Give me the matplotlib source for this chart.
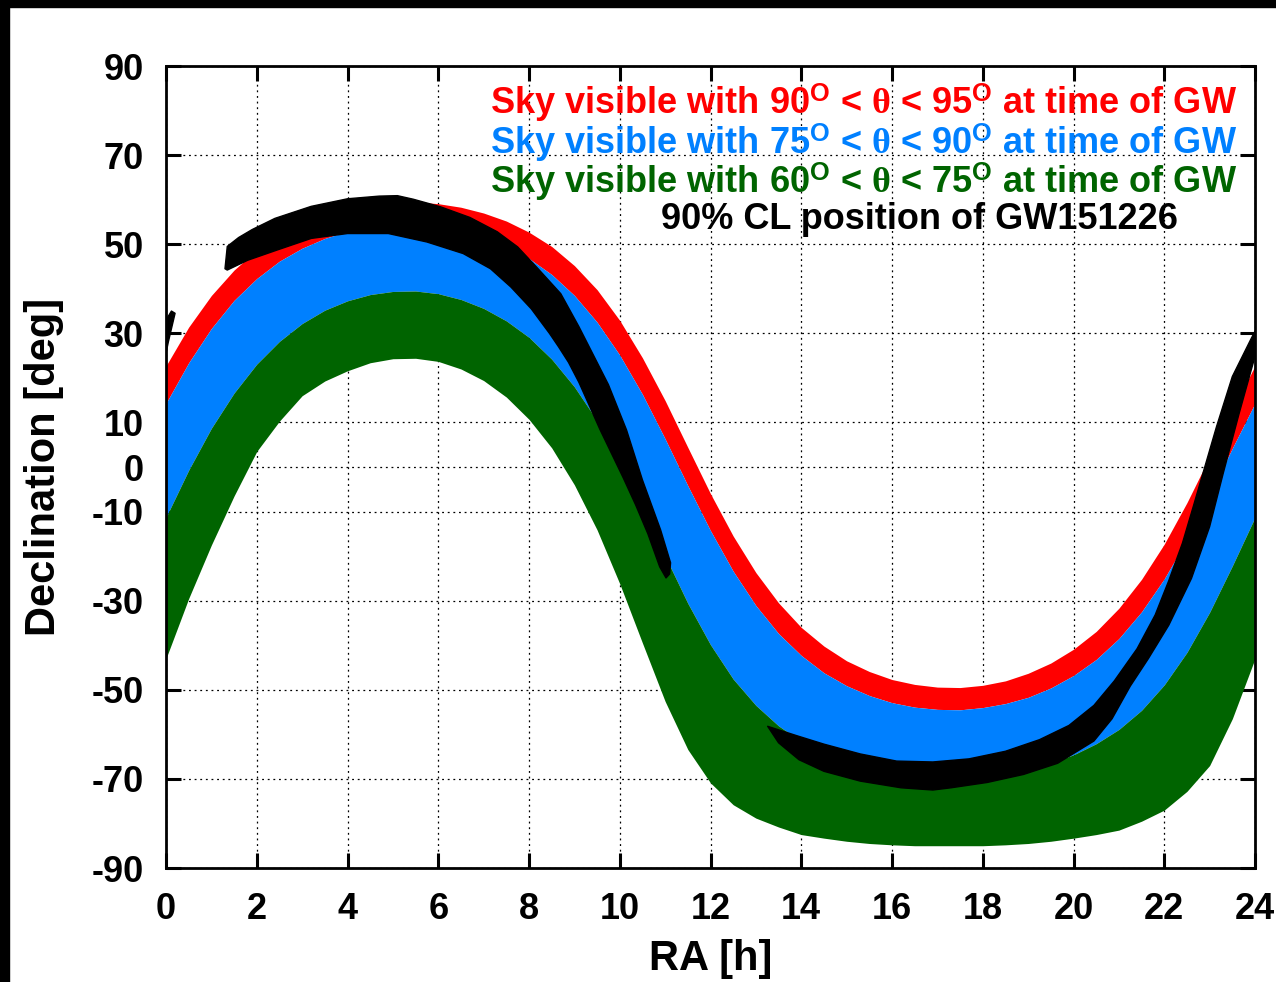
import matplotlib
matplotlib.use("Agg")
import matplotlib.pyplot as plt
from matplotlib.patches import Polygon, Rectangle

plt.rcParams['font.family'] = ['Liberation Sans', 'DejaVu Sans']
plt.rcParams['font.weight'] = 'bold'
plt.rcParams['axes.unicode_minus'] = False
plt.rcParams['mathtext.fontset'] = 'custom'
plt.rcParams['mathtext.rm'] = 'Liberation Serif'
plt.rcParams['mathtext.bf'] = 'Liberation Sans:bold'
plt.rcParams['mathtext.it'] = 'Liberation Serif:italic'

# RA grid (hours, every half hour) where the band edges were read
ra = [i * 0.5 for i in range(49)]

# band edges (declination, deg)
edge_95 = [22.7, 31.4, 38.5, 44.2, 48.7, 52.1, 54.8, 56.7, 58.1, 59.0, 59.4, 59.5, 59.1,
           58.3, 57.0, 55.2, 52.7, 49.5, 45.2, 39.8, 32.9, 24.5, 14.9, 4.4, -6.0,
           -15.5, -23.7, -30.5, -36.0, -40.2, -43.5, -45.9, -47.7, -48.8, -49.4, -49.5, -49.0,
           -48.0, -46.3, -44.0, -40.9, -36.9, -31.7, -25.2, -17.3, -8.0, 2.3, 12.8, 22.7]
edge_90 = [14.3, 23.4, 31.1, 37.4, 42.3, 46.2, 49.1, 51.3, 52.9, 53.9, 54.4, 54.5, 54.0,
           53.1, 51.7, 49.6, 46.8, 43.2, 38.5, 32.5, 25.1, 16.3, 6.3, -4.2, -14.3,
           -23.4, -31.1, -37.4, -42.3, -46.2, -49.1, -51.3, -52.9, -53.9, -54.4, -54.5, -54.0,
           -53.1, -51.7, -49.6, -46.8, -43.2, -38.5, -32.5, -25.1, -16.3, -6.3, 4.2, 14.3]
edge_75 = [-11.3, -0.7, 8.7, 16.6, 23.1, 28.2, 32.2, 35.2, 37.3, 38.7, 39.4, 39.5, 38.9,
           37.6, 35.6, 32.8, 29.1, 24.2, 18.0, 10.4, 1.3, -9.1, -20.0, -30.6, -39.9,
           -47.6, -53.5, -58.1, -61.6, -64.1, -66.1, -67.5, -68.5, -69.1, -69.4, -69.5, -69.2,
           -68.6, -67.7, -66.4, -64.6, -62.1, -58.9, -54.6, -48.9, -41.6, -32.6, -22.2, -11.3]
edge_60 = [-43.0, -29.5, -17.5, -6.5, 3.5, 10.3, 16.0, 19.3, 21.6, 23.4, 24.3, 24.4, 23.7,
           22.0, 19.4, 15.7, 10.7, 4.3, -4.0, -14.1, -26.2, -39.5, -52.6, -63.4, -70.9,
           -75.8, -78.8, -80.8, -82.5, -83.3, -84.0, -84.5, -84.8, -85.0, -85.0, -85.0, -85.0,
           -84.8, -84.5, -84.0, -83.3, -82.5, -81.5, -79.5, -77.0, -72.8, -67.0, -56.5, -43.0]

# 90% CL contour of GW151226 (outline, RA h / Dec deg)
gw_north_ra = [1.30, 1.35, 1.6, 1.9, 2.4, 3.2, 4.0, 4.7, 5.1, 5.45, 6.05, 6.7, 7.3, 7.75, 8.2,
               8.7, 9.1, 9.45, 9.75, 10.15, 10.5, 10.9, 11.12, 11.1, 11.02,
               10.88, 10.62, 10.35, 10.08, 9.82, 9.56, 9.32, 9.1, 8.87, 8.65, 8.45, 8.05, 7.6,
               7.15, 6.55, 5.75, 4.9, 4.0, 3.2, 2.45, 1.8, 1.35]
gw_north_dec = [44.5, 49.5, 51.5, 53.3, 55.8, 58.5, 60.2, 60.8, 60.9, 60.1, 58.4, 56.0, 52.8,
                49.4, 44.5, 38.9, 31.5, 24.5, 18.5, 8.3, -2.9, -14.1, -21.5, -24.0, -24.9,
                -22.4, -15.0, -8.5, -2.5, 3.0, 8.5, 14.0, 19.0, 23.5, 27.0, 30.0, 35.5, 40.4,
                44.5, 47.9, 50.5, 52.4, 52.4, 51.3, 48.7, 46.4, 44.2]
gw_south_ra = [13.26, 13.9, 14.5, 15.3, 16.1, 16.9, 17.7, 18.5, 19.25, 19.9, 20.45, 20.9, 21.4,
               21.8, 22.1, 22.4, 22.65, 23.15, 23.5, 23.9, 24.0,
               24.0, 23.65, 23.3, 23.0, 22.6, 22.1, 21.65, 21.25, 20.85, 20.45, 19.65, 18.9,
               18.1, 17.3, 16.9, 16.2, 15.3, 14.5, 13.95, 13.5]
gw_south_dec = [-58.2, -60.3, -62.2, -64.4, -66.0, -66.2, -65.5, -63.8, -61.2, -58.0, -53.5,
                -48.0, -40.8, -33.2, -25.5, -17.1, -8.5, 9.0, 20.3, 28.5, 30.5,
                24.8, 12.0, -1.4, -13.4, -25.0, -35.5, -43.0, -49.2, -56.5, -61.5, -66.5,
                -69.0, -70.8, -72.0, -72.5, -72.0, -70.5, -68.3, -65.7, -61.9]
gw_wrap_ra = [0.0, 0.0, 0.12, 0.2, 0.05]
gw_wrap_dec = [25.5, 33.0, 35.0, 34.5, 28.0]

labels = [r"Sky visible with 90$^{\mathbf{O}}$ < $\mathrm{\theta}$ < 95$^{\mathbf{O}}$ at time of GW",
          r"Sky visible with 75$^{\mathbf{O}}$ < $\mathrm{\theta}$ < 90$^{\mathbf{O}}$ at time of GW",
          r"Sky visible with 60$^{\mathbf{O}}$ < $\mathrm{\theta}$ < 75$^{\mathbf{O}}$ at time of GW",
          "90% CL position of GW151226"]
colors = ['#ff0000', '#0080ff', '#006400', 'black']

fig = plt.figure(figsize=(12.76, 9.82), dpi=100)
ax = fig.add_axes([166 / 1276, 1 - 868 / 982, 1089 / 1276, 802 / 982])

# black strips along the top and left of the original image
fig.patches.append(Rectangle((0, 1 - 7 / 982), 1, 7 / 982, transform=fig.transFigure,
                             color='black', zorder=10))
fig.patches.append(Rectangle((0, 0), 9 / 1276, 1, transform=fig.transFigure,
                             color='black', zorder=10))

ax.fill_between(ra, edge_90, edge_95, color=colors[0], lw=0, zorder=1)
ax.fill_between(ra, edge_75, edge_90, color=colors[1], lw=0, zorder=1)
ax.fill_between(ra, edge_60, edge_75, color=colors[2], lw=0, zorder=1)

for xs, ys in [(gw_north_ra, gw_north_dec), (gw_south_ra, gw_south_dec), (gw_wrap_ra, gw_wrap_dec)]:
    ax.add_patch(Polygon(list(zip(xs, ys)), closed=True, facecolor='black',
                         edgecolor='black', lw=1, joinstyle='round', zorder=2))

ax.set_xlim(0, 24)
ax.set_ylim(-90, 90)
ax.set_xticks(range(0, 25, 2))
ax.set_yticks([90, 70, 50, 30, 10, 0, -10, -30, -50, -70, -90])
ax.grid(True, color='black', linestyle=(0, (1.5, 3)), linewidth=0.9)
ax.set_axisbelow(True)
ax.tick_params(direction='in', length=11, width=2.2, top=True, right=True, labelsize=26)
ax.tick_params(axis='x', pad=17)
ax.tick_params(axis='y', pad=16)
for s in ax.spines.values():
    s.set_linewidth(2)
    s.set_zorder(5)

ax.set_xlabel('RA [h]', fontsize=30, fontweight='bold', va='bottom')
ax.set_ylabel('Declination [deg]', fontsize=30, fontweight='bold')
ax.xaxis.set_label_coords(0.5, -0.1384)
ax.yaxis.set_label_coords(-0.094, 0.5)

text_x = [23.6, 23.6, 23.6, 22.3]
text_y = [81.6, 72.7, 64.0, 55.5]
for tx, ty, s, c in zip(text_x, text_y, labels, colors):
    ax.text(tx, ty, s, color=c, fontsize=26, fontweight='bold', ha='right', va='center', zorder=6)

fig.savefig('out.png', dpi=100, facecolor='white')
